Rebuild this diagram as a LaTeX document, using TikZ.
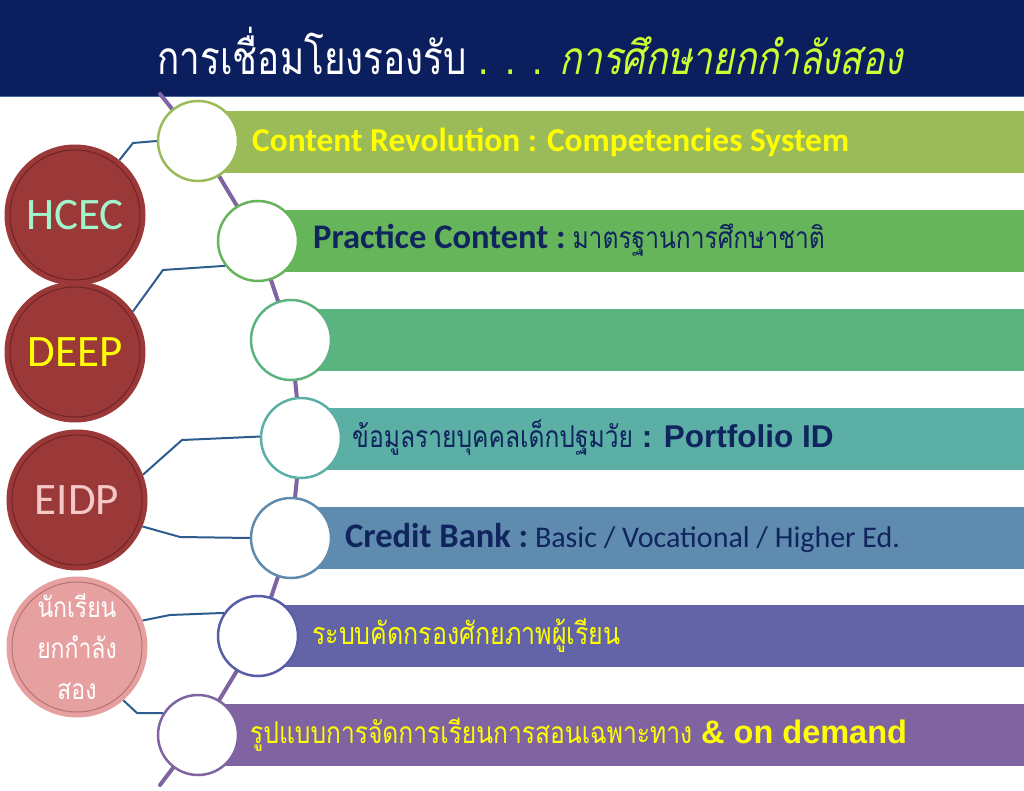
\documentclass[tikz,border=0pt]{standalone}
\usepackage{fontspec}
\setmainfont{Carlito}
\newfontfamily\thai[Script=Thai,FakeStretch=0.82]{Loma}
\newfontfamily\thaititle[Script=Thai,FakeStretch=0.8]{Loma}
\newfontfamily\thaiit[Script=Thai,FakeStretch=0.8,FakeSlant=0.2]{Loma}
\newfontfamily\boldsans{Liberation Sans}
\definecolor{navyband}{HTML}{0B1F5E}
\definecolor{bandline}{HTML}{46649A}
\definecolor{titlegreen}{HTML}{CCFF33}
\definecolor{ytext}{HTML}{FFFF00}
\definecolor{ntext}{HTML}{10245E}
\definecolor{linkblue}{HTML}{2E5C8F}
\definecolor{spinepurple}{HTML}{8064A2}
\definecolor{darkred}{HTML}{9B3838}
\definecolor{ringred}{HTML}{702424}
\definecolor{pinkfill}{HTML}{E6A0A0}
\definecolor{ringpink}{HTML}{B37272}
\definecolor{mint}{HTML}{A0F5CD}
\definecolor{pinktext}{HTML}{F5C8C8}
\definecolor{colA}{HTML}{9BBB59}
\definecolor{colB}{HTML}{66B55B}
\definecolor{colC}{HTML}{5BB37F}
\definecolor{colD}{HTML}{5BAFA5}
\definecolor{colE}{HTML}{5F8CAE}
\definecolor{colF}{HTML}{6264A7}
\definecolor{colFr}{HTML}{585EA5}
\definecolor{colG}{HTML}{8064A2}
\newcommand{\bsz}{\fontsize{34.5}{40}\selectfont}
\begin{document}
\begin{tikzpicture}[x=1pt,y=-1pt,
  barbox/.style={rectangle, inner sep=0, anchor=west, minimum height=62pt},
  ringnode/.style={circle, draw, line width=2.5pt, fill=white, minimum size=80pt, inner sep=0},
  bignode/.style={circle, fill=darkred, minimum size=141pt, inner sep=0, font=\fontsize{45}{50}\selectfont},
  link/.style={draw=linkblue, line width=2pt, line join=round},
  spine/.style={draw=spinepurple, line width=4pt, line cap=round},
  bartext/.style={anchor=west, inner sep=0, font=\fontsize{30}{36}\selectfont}
]
\useasboundingbox (0,0) rectangle (1024,791);
\fill[white] (0,0) rectangle (1024,791);
% title band
\node[rectangle, fill=navyband, minimum width=1024pt, minimum height=96pt, anchor=north west, inner sep=0] (band) at (0,0) {};
\draw[bandline, line width=1.5pt] (band.south west) -- (band.south east);
\node[text=white, inner sep=0, font=\thaititle\fontsize{46}{50}\selectfont] (title) at (530,51)
  {การเชื่อมโยงรองรับ \textcolor{titlegreen}{. . . \thaiit การศึกษายกกำลังสอง}};
% centres
\coordinate (top) at (160,94);
\coordinate (p1) at (198,141);
\coordinate (p2) at (258,241);
\coordinate (p3) at (291,340);
\coordinate (p4) at (301,438);
\coordinate (p5) at (291,538);
\coordinate (p6) at (258,636);
\coordinate (p7) at (198,735);
\coordinate (bot) at (160,785);
\draw[spine] (top) -- (p1) -- (p2) -- (p3) -- (p4) -- (p5) -- (p6) -- (p7) -- (bot);
% bars
\node[barbox, fill=colA, minimum width=826pt] (b1) at (198,142) {};
\node[barbox, fill=colB, minimum width=766pt] (b2) at (258,241) {};
\node[barbox, fill=colC, minimum width=733pt] (b3) at (291,340) {};
\node[barbox, fill=colD, minimum width=723pt] (b4) at (301,439) {};
\node[barbox, fill=colE, minimum width=733pt] (b5) at (291,538) {};
\node[barbox, fill=colF, minimum width=766pt] (b6) at (258,636) {};
\node[barbox, fill=colG, minimum width=826pt] (b7) at (198,735) {};
% rings
\node[ringnode, draw=colA] (c1) at (p1) {};
\node[ringnode, draw=colB] (c2) at (p2) {};
\node[ringnode, draw=colC] (c3) at (p3) {};
\node[ringnode, draw=colD] (c4) at (p4) {};
\node[ringnode, draw=colE] (c5) at (p5) {};
\node[ringnode, draw=colFr] (c6) at (p6) {};
\node[ringnode, draw=colG] (c7) at (p7) {};
% bar texts
\node[bartext, text=ytext, font=\fontsize{33.4}{38}\selectfont] (t1) at (252,142) {\bfseries Content Revolution : Competencies System};
\node[bartext, text=ntext] (t2) at (313,240) {{\bsz\bfseries Practice Content :}\ \thai มาตรฐานการศึกษาชาติ};
\node[bartext, text=ntext] (t4) at (352,438) {\thai ข้อมูลรายบุคคลเด็กปฐมวัย{\boldsans\bfseries\fontsize{31.5}{36}\selectfont{} : Portfolio ID}};
\node[bartext, text=ntext] (t5) at (345,538) {{\bsz\bfseries Credit Bank :}\ Basic / Vocational / Higher Ed.};
\node[bartext, text=ytext, font=\fontsize{30.5}{36}\selectfont] (t6) at (312,636) {\thai ระบบคัดกรองศักยภาพผู้เรียน};
\node[bartext, text=ytext] (t7) at (250,735) {\thai รูปแบบการจัดการเรียนการสอนเฉพาะทาง{\boldsans\bfseries\fontsize{32.5}{36}\selectfont{} \& on demand}};
% big circles
\node[bignode, text=mint] (hcec) at (75,215) {HCEC};
\node[bignode, text=ytext] (deep) at (75,352) {DEEP};
\node[bignode, text=pinktext] (eidp) at (77,500) {EIDP};
\node[bignode, fill=pinkfill, text=white, align=center, font=\thai\fontsize{28}{41}\selectfont] (pink) at (77,647) {นักเรียน\\ยกกำลัง\\สอง};
\draw[ringred, line width=1pt] (hcec.center) circle (65);
\draw[ringred, line width=1pt] (deep.center) circle (65);
\draw[ringred, line width=1pt] (eidp.center) circle (65);
\draw[ringpink, line width=1pt] (pink.center) circle (65);
% connectors
\draw[link] (hcec.51) -- (133,143) -- (c1.180);
\draw[link] (deep.35) -- (163,270) -- (c2.217);
\draw[link] (eidp.21) -- (182,440) -- (c4.178);
\draw[link] (eidp.-22) -- (180,537) -- (c5.180);
\draw[link] (pink.22) -- (170,615) -- (c6.146);
\draw[link] (pink.-49) -- (137,713) -- (c7.148);
\end{tikzpicture}
\end{document}
